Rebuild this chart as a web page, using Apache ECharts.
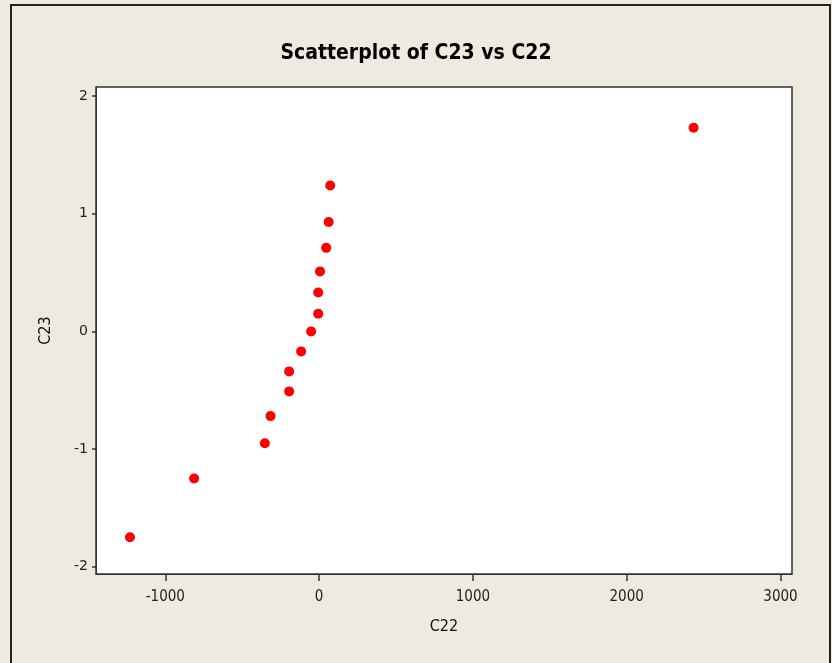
<!DOCTYPE html>
<html>
<head>
<meta charset="utf-8">
<script src="https://cdn.jsdelivr.net/npm/echarts@6/dist/echarts.min.js"></script>
<style>
  html, body { margin: 0; padding: 0; background: #eeeae0; }
  #main { width: 832px; height: 663px; }
</style>
</head>
<body>
<div id="main"></div>
<script>
// 数据
var c22 = [-1230, -813, -353, -316, -195, -195, -117, -52, -6, -6, 6, 46, 62, 72, 2435];
var c23 = [-1.75, -1.25, -0.95, -0.72, -0.51, -0.34, -0.17, 0.0, 0.15, 0.33, 0.51, 0.71, 0.93, 1.24, 1.73];
var xTicks = [-1000, 0, 1000, 2000, 3000];
var yTicks = [-2, -1, 0, 1, 2];

var points = c22.map(function (v, i) { return [v, c23[i]]; });

var chart = echarts.init(document.getElementById('main'));
var font = "'Liberation Sans Narrow', 'DejaVu Sans Condensed', 'Liberation Sans', sans-serif";

chart.setOption({
    backgroundColor: '#eeeae0',
    animation: false,
    title: {
        text: 'Scatterplot of C23 vs C22',
        left: 'center',
        top: 38,
        textStyle: {
            fontFamily: font,
            fontWeight: 'bold',
            fontSize: 21,
            color: '#000'
        }
    },
    graphic: [{
        type: 'polyline',
        shape: { points: [[11, 663], [11, 5], [830, 5], [830, 663]] },
        style: { stroke: '#222', lineWidth: 2, fill: null }
    }],
    grid: {
        left: 96,
        right: 40,
        top: 87,
        bottom: 89,
        show: true,
        backgroundColor: '#ffffff',
        borderColor: '#333',
        borderWidth: 1.5
    },
    xAxis: {
        type: 'value',
        min: -1451,
        max: 3075,
        name: 'C22',
        nameLocation: 'middle',
        nameGap: 45,
        nameTextStyle: { fontFamily: font, fontSize: 16, color: '#111' },
        axisLine: { show: true, onZero: false, lineStyle: { color: '#333' } },
        axisTick: { show: true, length: 7, customValues: xTicks, lineStyle: { color: '#333', width: 1.5 } },
        axisLabel: {
            customValues: xTicks,
            margin: 16,
            fontFamily: font,
            fontSize: 15,
            color: '#222',
            formatter: function (v) { return String(v); }
        },
        splitLine: { show: false }
    },
    yAxis: {
        type: 'value',
        min: -2.062,
        max: 2.077,
        name: 'C23',
        nameLocation: 'middle',
        nameGap: 42,
        nameTextStyle: { fontFamily: font, fontSize: 16, color: '#111' },
        axisLine: { show: true, onZero: false, lineStyle: { color: '#333' } },
        axisTick: { show: true, length: 4, customValues: yTicks, lineStyle: { color: '#333', width: 1.5 } },
        axisLabel: {
            customValues: yTicks,
            margin: 8,
            fontFamily: "'DejaVu Sans', sans-serif",
            fontSize: 14,
            color: '#222',
            formatter: function (v) { return String(v); }
        },
        splitLine: { show: false }
    },
    series: [{
        name: 'C23',
        type: 'scatter',
        symbol: 'circle',
        symbolSize: 10,
        itemStyle: { color: '#ff0000', opacity: 1 },
        data: points
    }]
});
</script>
</body>
</html>
